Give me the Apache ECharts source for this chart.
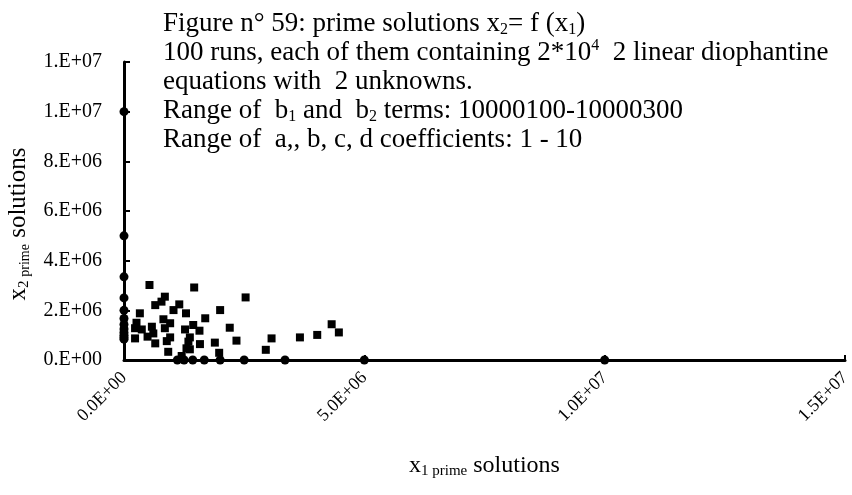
<!DOCTYPE html>
<html>
<head>
<meta charset="utf-8">
<script src="https://cdn.jsdelivr.net/npm/echarts@6/dist/echarts.min.js"></script>
<style>
html,body{margin:0;padding:0;background:#fff;}
#main{width:852px;height:495px;}
</style>
</head>
<body>
<div id="main"></div>
<script>
// x1 / x2 prime solutions, scattered cloud (square markers)
const squareX = [0.53e6,1.46e6,0.85e6,0.78e6,0.65e6,1.15e6,1.03e6,0.33e6,1.29e6,0.26e6,
  0.82e6,0.96e6,1.69e6,1.44e6,0.23e6,0.37e6,0.58e6,0.61e6,0.85e6,1.27e6,
  1.57e6,0.49e6,0.23e6,0.96e6,1.37e6,0.65e6,0.89e6,1.34e6,1.58e6,1.89e6,
  1.30e6,0.92e6,1.37e6,1.20e6,2.00e6,2.53e6,2.20e6,2.34e6,3.07e6,2.95e6,
  1.98e6,3.66e6,4.02e6,4.32e6,4.47e6];
const squareY = [3.02e6,2.92e6,2.55e6,2.35e6,2.21e6,2.24e6,2.01e6,1.88e6,1.88e6,1.50e6,
  1.64e6,1.48e6,1.68e6,1.41e6,1.28e6,1.23e6,1.34e6,1.07e6,1.28e6,1.23e6,
  1.18e6,0.94e6,0.87e6,0.91e6,0.91e6,0.67e6,0.76e6,0.74e6,0.64e6,0.70e6,
  0.47e6,0.33e6,0.43e6,0.16e6,2.01e6,2.52e6,1.30e6,0.78e6,0.87e6,0.41e6,
  0.29e6,0.91e6,1.01e6,1.44e6,1.11e6];
// solutions lying on the axes (round markers)
const axisYValues = [10.0e6,5.0e6,3.35e6,2.5e6,2.0e6,1.67e6,1.43e6,1.25e6,1.11e6,1.0e6,0.91e6,0.84e6];
const axisXValues = [10.0e6,5.0e6,3.35e6,2.5e6,2.0e6,1.67e6,1.43e6,1.25e6,1.11e6];
const smallValue = 3;
const yTickLabels = ['0.E+00','2.E+06','4.E+06','6.E+06','8.E+06','1.E+07','1.E+07'];
const xTickLabels = ['0.0E+00','5.0E+06','1.0E+07','1.5E+07'];
const titleLines = [
  '{n|Figure n° 59: prime solutions x}{s|2}{n|= f (x}{s|1}{n|)}',
  '{n|100 runs, each of them containing 2*10}{p|4}{n|  2 linear diophantine}',
  '{n|equations with  2 unknowns.}',
  '{n|Range of  b}{s|1}{n| and  b}{s|2}{n| terms: 10000100-10000300}',
  '{n|Range of  a,, b, c, d coefficients: 1 - 10}'
];

const squares = squareX.map((x, i) => [x, squareY[i]]);
const roundPts = axisYValues.map(v => [smallValue, v]).concat(axisXValues.map(v => [v, smallValue]));

const FONT = 'Liberation Serif';
const chart = echarts.init(document.getElementById('main'));
chart.setOption({
  backgroundColor: '#fff',
  animation: false,
  title: {
    left: 163, top: 9, padding: 0,
    text: titleLines.join('\n'),
    textStyle: {
      fontWeight: 'normal',
      rich: {
        n: {fontFamily: FONT, fontSize: 27, fontWeight: 'normal', color: '#000', lineHeight: 29},
        s: {fontFamily: FONT, fontSize: 16, fontWeight: 'normal', color: '#000', lineHeight: 17, verticalAlign: 'bottom'},
        p: {fontFamily: FONT, fontSize: 16, fontWeight: 'normal', color: '#000', lineHeight: 17, verticalAlign: 'top'}
      }
    }
  },
  grid: {left: 124, right: 7, top: 62, bottom: 135, outerBoundsMode: 'none', containLabel: false},
  xAxis: {
    type: 'value', min: 0, max: 15e6, interval: 5e6,
    name: '{x|x}{s|1 prime}{t| solutions}',
    nameLocation: 'middle', nameGap: 92,
    nameTextStyle: {
      rich: {
        x: {fontFamily: FONT, fontSize: 24, color: '#000', lineHeight: 27},
        s: {fontFamily: FONT, fontSize: 15, color: '#000', lineHeight: 16, verticalAlign: 'bottom'},
        t: {fontFamily: FONT, fontSize: 24, color: '#000', lineHeight: 27}
      }
    },
    axisLine: {show: true, onZero: false, lineStyle: {color: '#000', width: 3}},
    axisTick: {show: true, inside: true, length: 5, lineStyle: {color: '#000', width: 2}},
    axisLabel: {
      rotate: 45, margin: 15, fontFamily: FONT, fontSize: 18, color: '#000',
      formatter: v => xTickLabels[Math.round(v / 5e6)]
    },
    splitLine: {show: false}
  },
  yAxis: {
    type: 'value', min: 0, max: 12e6, interval: 2e6,
    name: '{x|x}{s|2 }{q|prime}{t| solutions}',
    nameLocation: 'middle', nameGap: 92, nameRotate: 90,
    nameTextStyle: {
      padding: [0, 26, 0, 0],
      rich: {
        x: {fontFamily: FONT, fontSize: 25, color: '#000', lineHeight: 28},
        s: {fontFamily: FONT, fontSize: 15, color: '#000', lineHeight: 15, verticalAlign: 'bottom'},
        q: {fontFamily: FONT, fontSize: 14, color: '#000', lineHeight: 15, verticalAlign: 'bottom'},
        t: {fontFamily: FONT, fontSize: 25, color: '#000', lineHeight: 28}
      }
    },
    axisLine: {show: true, onZero: false, lineStyle: {color: '#000', width: 3}},
    axisTick: {show: true, inside: true, length: 6, lineStyle: {color: '#000', width: 2}},
    axisLabel: {
      margin: 22, fontFamily: FONT, fontSize: 20, color: '#000',
      formatter: v => yTickLabels[Math.round(v / 2e6)]
    },
    splitLine: {show: false}
  },
  series: [
    {type: 'scatter', data: squares, symbol: 'rect', symbolSize: 8,
     itemStyle: {color: '#000', opacity: 1}},
    {type: 'scatter', data: roundPts, symbol: 'circle', symbolSize: 9,
     itemStyle: {color: '#000', opacity: 1}}
  ]
});
</script>
</body>
</html>
